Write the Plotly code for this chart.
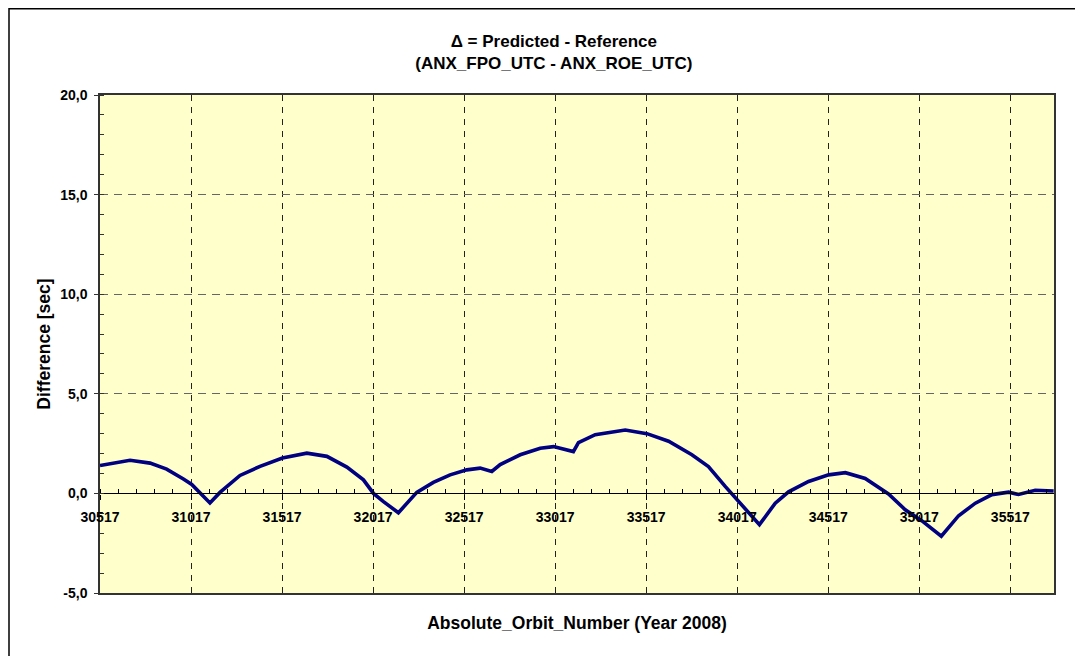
import plotly.graph_objects as go

# Orbit numbers and differences [sec]
orbits = [30517, 30682, 30792, 30883, 30975, 31021, 31121, 31176, 31286, 31396,
          31519, 31653, 31763, 31873, 31964, 32019, 32074, 32156, 32257, 32348,
          32440, 32532, 32605, 32669, 32715, 32825, 32935, 33008, 33117, 33145,
          33237, 33402, 33521, 33640, 33768, 33859, 33951, 34024, 34139, 34226,
          34299, 34409, 34519, 34611, 34720, 34848, 34940, 35032, 35138, 35233,
          35325, 35416, 35508, 35562, 35654, 35755]
diff_sec = [1.40, 1.66, 1.52, 1.22, 0.72, 0.45, -0.48, 0.05, 0.90, 1.36,
            1.78, 2.02, 1.86, 1.32, 0.68, 0.00, -0.41, -0.97, 0.05, 0.55,
            0.93, 1.18, 1.27, 1.10, 1.45, 1.94, 2.27, 2.35, 2.10, 2.55,
            2.95, 3.18, 3.00, 2.62, 1.94, 1.35, 0.35, -0.38, -1.57, -0.49,
            0.08, 0.60, 0.93, 1.04, 0.75, -0.03, -0.82, -1.38, -2.15, -1.12,
            -0.49, -0.06, 0.06, -0.05, 0.16, 0.12]

x_ticks = [30517, 31017, 31517, 32017, 32517, 33017, 33517, 34017, 34517, 35017, 35517]
x_tick_labels = [str(v) for v in x_ticks]
y_ticks = [-5, 0, 5, 10, 15, 20]
y_tick_labels = [f"{v:.1f}".replace(".", ",") for v in y_ticks]

title_text = "<b>Δ = Predicted - Reference<br>(ANX_FPO_UTC - ANX_ROE_UTC)</b>"
x_title = "<b>Absolute_Orbit_Number (Year 2008)</b>"
y_title = "<b>Difference [sec]</b>"

FONT = "Liberation Sans, Arial, sans-serif"
x_range = [30517, 35757]
y_range = [-5, 20]

fig = go.Figure()
fig.add_trace(go.Scatter(
    x=orbits, y=diff_sec, mode="lines",
    line=dict(color="#000080", width=3.6),
    showlegend=False, hoverinfo="x+y",
))
# empty trace so the zero-crossing axis is instantiated
fig.add_trace(go.Scatter(x=[], y=[], xaxis="x2", showlegend=False))

fig.update_layout(
    width=1083, height=656,
    margin=dict(l=92, r=37, t=87, b=71),
    paper_bgcolor="white",
    plot_bgcolor="#FFFFCC",
    font=dict(family=FONT, color="black", size=14),
    title=dict(text=title_text, x=0.504, xanchor="center", xref="container",
               y=1 - 39 / 656, yanchor="top",
               font=dict(family=FONT, size=17, color="black")),
    xaxis=dict(
        range=x_range, tickvals=x_ticks, showticklabels=False, ticks="",
        showgrid=True, gridcolor="#222222", griddash="6px,6px", gridwidth=1,
        showline=True, linecolor="#333333", linewidth=1.5, mirror=True,
        zeroline=False,
        title=dict(text=x_title, font=dict(family=FONT, size=17.5, color="black"),
                   standoff=23),
    ),
    xaxis2=dict(
        overlaying="x", matches="x", anchor="free", position=0.2,
        range=x_range, tickvals=x_ticks, ticktext=x_tick_labels,
        showgrid=False, zeroline=False,
        showline=True, linecolor="black", linewidth=1.2,
        ticks="outside", ticklen=5, tickcolor="black",
        minor=dict(dtick=100, tick0=30517, ticks="inside", ticklen=4, tickcolor="black", showgrid=False),
        ticklabelstandoff=6,
        tickfont=dict(family=FONT, size=14, color="black", weight="bold"),
    ),
    yaxis=dict(
        range=y_range, tickvals=y_ticks, ticktext=y_tick_labels,
        showgrid=True, gridcolor="#666666", griddash="8px,6px", gridwidth=1,
        zeroline=False,
        showline=True, linecolor="#333333", linewidth=1.5, mirror=True,
        ticks="outside", ticklen=4, tickcolor="#333333",
        minor=dict(dtick=1, ticks="inside", ticklen=4, tickcolor="#333333", showgrid=False),
        ticklabelstandoff=4,
        tickfont=dict(family=FONT, size=14, color="black", weight="bold"),
        title=dict(text=y_title, font=dict(family=FONT, size=17.5, color="black"),
                   standoff=5),
    ),
)

# outer chart frame
fig.add_shape(type="rect", xref="paper", yref="paper",
              x0=(1 - 92) / 954, x1=(1068 - 92) / 954,
              y0=(585 - 670) / 498, y1=(585 - 0.75) / 498,
              line=dict(color="black", width=1.5), fillcolor="rgba(0,0,0,0)",
              layer="below")

fig.write_html("out.html")
